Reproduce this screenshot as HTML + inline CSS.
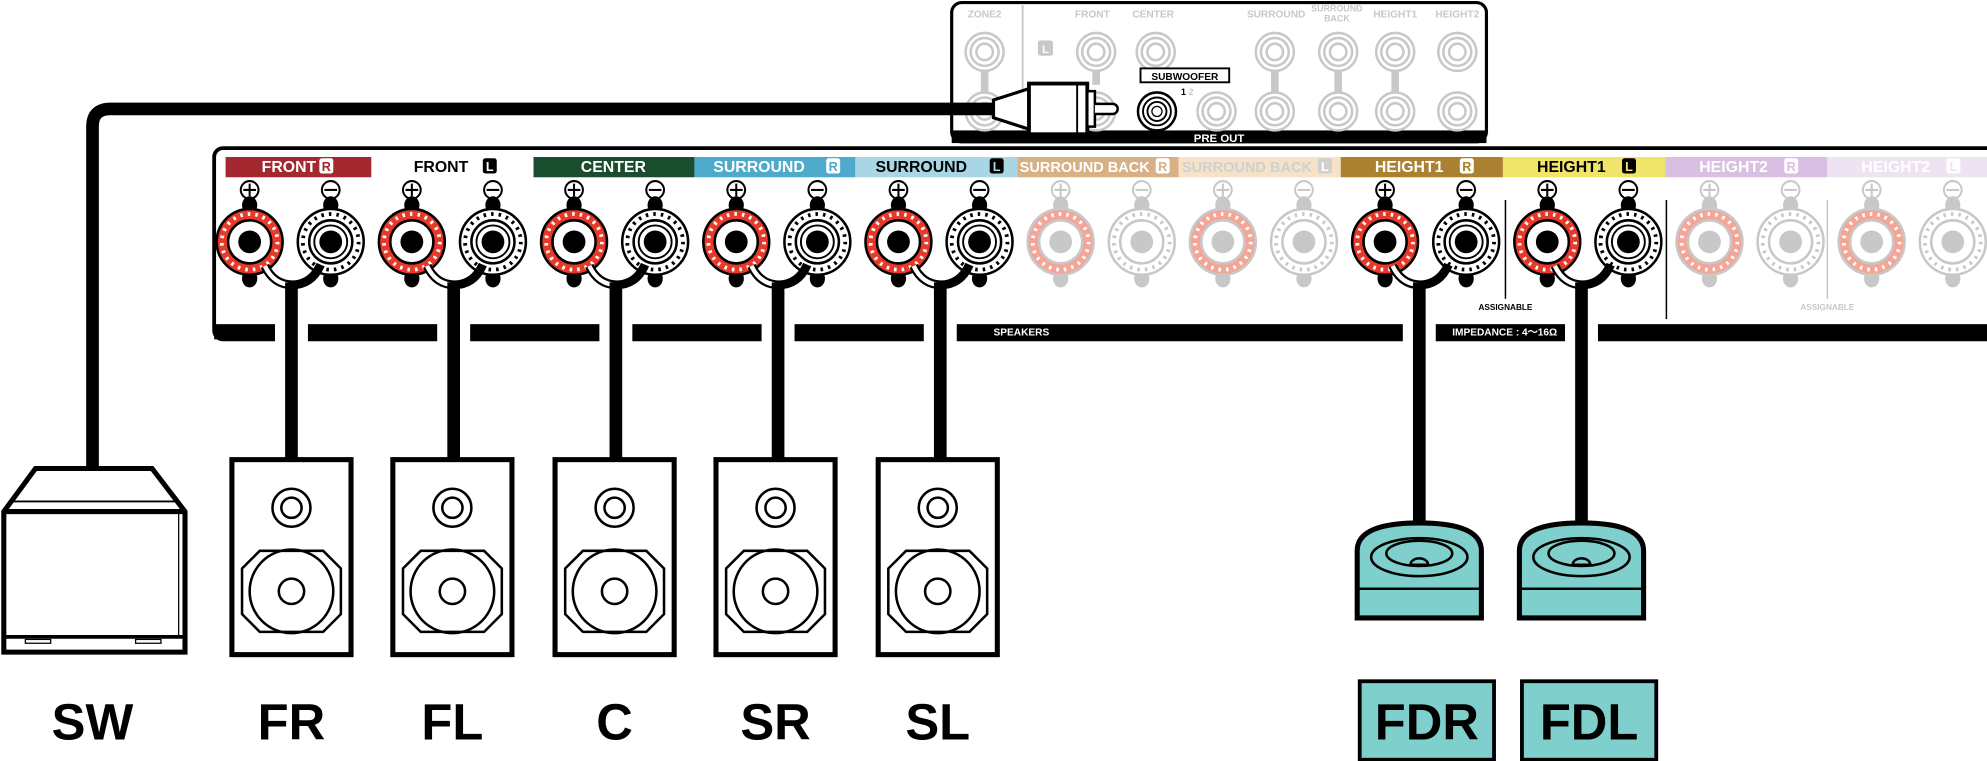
<!DOCTYPE html>
<html><head><meta charset="utf-8"><style>html,body{margin:0;padding:0;background:#fff}svg{display:block}text{font-family:"Liberation Sans",sans-serif;font-weight:bold}</style></head><body>
<svg width="1987" height="761" viewBox="0 0 1568 601" preserveAspectRatio="none" xmlns="http://www.w3.org/2000/svg">
<defs>
<g id="tp">
<ellipse cx="0" cy="-29" rx="6" ry="7" fill="#000"/><ellipse cx="0" cy="29" rx="6" ry="7" fill="#000"/>
<circle r="26" fill="#e8382a" stroke="#000" stroke-width="2"/>
<circle r="22" fill="none" stroke="#fff" stroke-width="3" stroke-dasharray="2 4"/>
<circle r="17" fill="#fff" stroke="#000" stroke-width="2"/>
<circle r="9" fill="#000"/>
</g>
<g id="tn">
<ellipse cx="0" cy="-29" rx="6" ry="7" fill="#000"/><ellipse cx="0" cy="29" rx="6" ry="7" fill="#000"/>
<circle r="26" fill="#fff" stroke="#000" stroke-width="2"/>
<circle r="22" fill="none" stroke="#000" stroke-width="3" stroke-dasharray="2 4"/>
<circle r="17" fill="#fff" stroke="#000" stroke-width="2"/>
<circle r="13" fill="#fff" stroke="#000" stroke-width="1.5"/>
<circle r="9" fill="#000"/>
</g>
<g id="fp">
<ellipse cx="0" cy="-29" rx="6" ry="7" fill="#c8c8c8"/><ellipse cx="0" cy="29" rx="6" ry="7" fill="#c8c8c8"/>
<circle r="26" fill="#f4a595" stroke="#c8c8c8" stroke-width="2"/>
<circle r="22" fill="none" stroke="#fff" stroke-width="3" stroke-dasharray="2 4"/>
<circle r="17" fill="#fff" stroke="#c8c8c8" stroke-width="2"/>
<circle r="9" fill="#c8c8c8"/>
</g>
<g id="fn">
<ellipse cx="0" cy="-29" rx="6" ry="7" fill="#c8c8c8"/><ellipse cx="0" cy="29" rx="6" ry="7" fill="#c8c8c8"/>
<circle r="26" fill="#fff" stroke="#c8c8c8" stroke-width="2"/>
<circle r="22" fill="none" stroke="#c8c8c8" stroke-width="3" stroke-dasharray="2 4"/>
<circle r="17" fill="#fff" stroke="#c8c8c8" stroke-width="2"/>
<circle r="9" fill="#c8c8c8"/>
</g>
<g id="plus"><circle r="7" fill="#fff" stroke="currentColor" stroke-width="1.6"/><path d="M-5 0H5M0 -5V5" stroke="currentColor" stroke-width="1.6"/></g>
<g id="minus"><circle r="7" fill="#fff" stroke="currentColor" stroke-width="1.6"/><path d="M-5 0H5" stroke="currentColor" stroke-width="1.6"/></g>
<g id="rca"><circle r="15" fill="#fff" stroke="#c8c8c8" stroke-width="2"/><circle r="11" fill="none" stroke="#c8c8c8" stroke-width="2"/><circle r="6.5" fill="none" stroke="#c8c8c8" stroke-width="2"/></g>
<g id="spk">
<rect x="-47" y="0" width="94" height="154" fill="#fff" stroke="#000" stroke-width="4"/>
<circle cx="0" cy="38" r="15" fill="none" stroke="#000" stroke-width="2"/><circle cx="0" cy="38" r="8" fill="none" stroke="#000" stroke-width="2"/>
<path d="M-25 72H25L39 86V122L25 136H-25L-39 122V86Z" fill="none" stroke="#000" stroke-width="2"/>
<circle cx="0" cy="104" r="33" fill="none" stroke="#000" stroke-width="2"/><circle cx="0" cy="104" r="10" fill="none" stroke="#000" stroke-width="2"/>
</g>
<g id="hs">
<path d="M-49 488V435Q-49 413 0 413Q49 413 49 435V488Z" fill="#7fcfcc" stroke="#000" stroke-width="4"/>
<path d="M-48 465H48" stroke="#000" stroke-width="2"/>
<ellipse cx="0" cy="440" rx="38" ry="15" fill="none" stroke="#000" stroke-width="2"/>
<ellipse cx="0" cy="437" rx="26" ry="10" fill="none" stroke="#000" stroke-width="2"/>
<path d="M-7 446A7 5 0 0 1 7 446Z" fill="none" stroke="#000" stroke-width="2"/>
</g>
<g id="cab">
<rect x="217" y="254" width="26" height="16" fill="#fff"/>
<path d="M209 210Q216 225 231 225" fill="none" stroke="#000" stroke-width="7"/>
<path d="M209 210Q216 225 231 225" fill="none" stroke="#fff" stroke-width="3.5"/>
<path d="M253 209Q246 225 230 225" fill="none" stroke="#000" stroke-width="7"/>
</g>
</defs>

<!-- pre out box -->
<rect x="751" y="2" width="422" height="110" rx="8" fill="#fff" stroke="#000" stroke-width="2.5"/>
<rect x="751" y="103" width="422" height="10" fill="#000"/>
<text x="962" y="112" font-size="9" fill="#fff" text-anchor="middle">PRE OUT</text>
<line x1="807" y1="4" x2="807" y2="103" stroke="#c8c8c8" stroke-width="1.5"/>
<g font-size="8" fill="#c8c8c8" text-anchor="middle">
<text x="777" y="14">ZONE2</text><text x="862" y="14">FRONT</text><text x="910" y="14">CENTER</text>
<text x="1007" y="14">SURROUND</text><text x="1055" y="9" font-size="7">SURROUND</text><text x="1055" y="17" font-size="7">BACK</text>
<text x="1101" y="14">HEIGHT1</text><text x="1150" y="14">HEIGHT2</text></g>
<rect x="819" y="32" width="12" height="12" rx="2" fill="#c8c8c8"/><text x="825" y="42" font-size="9" fill="#fff" text-anchor="middle">L</text>
<g fill="#c8c8c8"><rect x="774" y="55" width="6" height="22"/><rect x="1003" y="55" width="6" height="22"/><rect x="1053" y="55" width="6" height="22"/><rect x="1098" y="55" width="6" height="22"/><rect x="862" y="55" width="6" height="12"/></g>
<use href="#rca" x="777" y="41"/><use href="#rca" x="865" y="41"/><use href="#rca" x="912" y="41"/><use href="#rca" x="1006" y="41"/><use href="#rca" x="1056" y="41"/><use href="#rca" x="1101" y="41"/><use href="#rca" x="1150" y="41"/>
<use href="#rca" x="777" y="88"/><use href="#rca" x="865" y="88"/><use href="#rca" x="960" y="88"/><use href="#rca" x="1006" y="88"/><use href="#rca" x="1056" y="88"/><use href="#rca" x="1101" y="88"/><use href="#rca" x="1150" y="88"/>
<rect x="900" y="54" width="70" height="11" fill="#fff" stroke="#000" stroke-width="1.5"/>
<text x="935" y="63" font-size="8" text-anchor="middle">SUBWOOFER</text>
<text x="932" y="75" font-size="7">1</text><text x="938" y="75" font-size="7" fill="#c8c8c8">2</text>
<circle cx="913" cy="88" r="15" fill="#fff" stroke="#000" stroke-width="2"/><circle cx="913" cy="88" r="11" fill="none" stroke="#000" stroke-width="1.5"/><circle cx="913" cy="88" r="7.5" fill="none" stroke="#000" stroke-width="1.5"/><circle cx="913" cy="88" r="4" fill="#fff" stroke="#000" stroke-width="1"/>

<!-- speaker panel -->
<rect x="169" y="117" width="1420" height="151" rx="7" fill="#fff" stroke="#000" stroke-width="3"/>
<rect x="169" y="256" width="1420" height="12" fill="#000"/>
<text x="806" y="265" font-size="8" fill="#fff" text-anchor="middle">SPEAKERS</text>
<text x="1146" y="265" font-size="8" fill="#fff">IMPEDANCE : 4～16Ω</text>

<!-- labels -->
<g font-size="12.5" text-anchor="middle">
<rect x="178" y="124" width="115" height="16" fill="#a3282f"/><text x="228" y="136" fill="#fff">FRONT</text><rect x="252" y="125" width="11" height="12" rx="2" fill="#fff"/><text x="257.5" y="135" fill="#a3282f" font-size="10">R</text>
<text x="348" y="136">FRONT</text><rect x="381" y="125" width="11" height="12" rx="2" fill="#000"/><text x="386.5" y="135" fill="#fff" font-size="10">L</text>
<rect x="421" y="124" width="127" height="16" fill="#1a4d2e"/><text x="484" y="136" fill="#fff">CENTER</text>
<rect x="548" y="124" width="127" height="16" fill="#4eaacb"/><text x="599" y="136" fill="#fff">SURROUND</text><rect x="652" y="125" width="11" height="12" rx="2" fill="#fff"/><text x="657.5" y="135" fill="#4eaacb" font-size="10">R</text>
<rect x="675" y="124" width="128" height="16" fill="#a8d6e5"/><text x="727" y="136">SURROUND</text><rect x="781" y="125" width="11" height="12" rx="2" fill="#000"/><text x="786.5" y="135" fill="#a8d6e5" font-size="10">L</text>
<rect x="803" y="124" width="127" height="16" fill="#d8b086"/><text x="856" y="136" fill="#fff" font-size="11.5">SURROUND BACK</text><rect x="912" y="125" width="11" height="12" rx="2" fill="#fff"/><text x="917.5" y="135" fill="#d8b086" font-size="10">R</text>
<rect x="930" y="124" width="128" height="16" fill="#f6e2c8"/><text x="984" y="136" fill="#d0d0d0" font-size="11.5">SURROUND BACK</text><rect x="1040" y="125" width="11" height="12" rx="2" fill="#d0d0d0"/><text x="1045.5" y="135" fill="#fff" font-size="10">L</text>
<rect x="1058" y="124" width="128" height="16" fill="#ab8030"/><text x="1112" y="136" fill="#fff">HEIGHT1</text><rect x="1152" y="125" width="11" height="12" rx="2" fill="#fff"/><text x="1157.5" y="135" fill="#ab8030" font-size="10">R</text>
<rect x="1186" y="124" width="128" height="16" fill="#f1e569"/><text x="1240" y="136">HEIGHT1</text><rect x="1280" y="125" width="11" height="12" rx="2" fill="#000"/><text x="1285.5" y="135" fill="#f1e569" font-size="10">L</text>
<rect x="1314" y="124" width="128" height="16" fill="#d9bfe2"/><text x="1368" y="136" fill="#fff">HEIGHT2</text><rect x="1408" y="125" width="11" height="12" rx="2" fill="#fff"/><text x="1413.5" y="135" fill="#d9bfe2" font-size="10">R</text>
<rect x="1442" y="124" width="126" height="16" fill="#eee3f2"/><text x="1496" y="136" fill="#fff">HEIGHT2</text><rect x="1536" y="125" width="11" height="12" rx="2" fill="#fff"/><text x="1541.5" y="135" fill="#eee3f2" font-size="10">L</text>
</g>
<line x1="1188" y1="158" x2="1188" y2="236" stroke="#000" stroke-width="1.2"/>
<text x="1188" y="245" font-size="6.5" text-anchor="middle">ASSIGNABLE</text>
<line x1="1315" y1="158" x2="1315" y2="252" stroke="#000" stroke-width="1.2"/>
<line x1="1442" y1="158" x2="1442" y2="236" stroke="#c8c8c8" stroke-width="1.2"/>
<text x="1442" y="245" font-size="6.5" fill="#c8c8c8" text-anchor="middle">ASSIGNABLE</text>

<!-- terminals -->
<g color="#000">
<use href="#plus" x="197" y="150"/><use href="#minus" x="261" y="150"/>
<use href="#plus" x="325" y="150"/><use href="#minus" x="389" y="150"/>
<use href="#plus" x="453" y="150"/><use href="#minus" x="517" y="150"/>
<use href="#plus" x="581" y="150"/><use href="#minus" x="645" y="150"/>
<use href="#plus" x="709" y="150"/><use href="#minus" x="773" y="150"/>
<use href="#plus" x="1093" y="150"/><use href="#minus" x="1157" y="150"/>
<use href="#plus" x="1221" y="150"/><use href="#minus" x="1285" y="150"/>
</g>
<g color="#c8c8c8">
<use href="#plus" x="837" y="150"/><use href="#minus" x="901" y="150"/>
<use href="#plus" x="965" y="150"/><use href="#minus" x="1029" y="150"/>
<use href="#plus" x="1349" y="150"/><use href="#minus" x="1413" y="150"/>
<use href="#plus" x="1477" y="150"/><use href="#minus" x="1541" y="150"/>
</g>
<use href="#tp" x="197" y="191"/><use href="#tn" x="261" y="191"/>
<use href="#tp" x="325" y="191"/><use href="#tn" x="389" y="191"/>
<use href="#tp" x="453" y="191"/><use href="#tn" x="517" y="191"/>
<use href="#tp" x="581" y="191"/><use href="#tn" x="645" y="191"/>
<use href="#tp" x="709" y="191"/><use href="#tn" x="773" y="191"/>
<use href="#fp" x="837" y="191"/><use href="#fn" x="901" y="191"/>
<use href="#fp" x="965" y="191"/><use href="#fn" x="1029" y="191"/>
<use href="#tp" x="1093" y="191"/><use href="#tn" x="1157" y="191"/>
<use href="#tp" x="1221" y="191"/><use href="#tn" x="1285" y="191"/>
<use href="#fp" x="1349" y="191"/><use href="#fn" x="1413" y="191"/>
<use href="#fp" x="1477" y="191"/><use href="#fn" x="1541" y="191"/>

<!-- cables -->
<use href="#cab" x="0"/><use href="#cab" x="128"/><use href="#cab" x="256"/><use href="#cab" x="384"/><use href="#cab" x="512"/><use href="#cab" x="890"/><use href="#cab" x="1018"/>
<g fill="#000">
<rect x="225" y="223" width="10" height="141"/><rect x="353" y="223" width="10" height="141"/><rect x="481" y="223" width="10" height="141"/><rect x="609" y="223" width="10" height="141"/><rect x="737" y="223" width="10" height="141"/>
<rect x="1115" y="223" width="10" height="192"/><rect x="1243" y="223" width="10" height="192"/>
</g>

<!-- SW cable and plug -->
<path d="M73 372V100Q73 86 87 86H790" fill="none" stroke="#000" stroke-width="10"/>
<path d="M784 79L812 70V102L784 93Z" fill="#fff" stroke="#000" stroke-width="2.5"/>
<rect x="812" y="66" width="46" height="40" fill="#fff" stroke="#000" stroke-width="3"/>
<line x1="850" y1="66" x2="850" y2="106" stroke="#000" stroke-width="1.5"/>
<rect x="858" y="72" width="6" height="28" fill="#fff" stroke="#000" stroke-width="2"/>
<path d="M864 82H878A4 4 0 0 1 878 90H864" fill="#fff" stroke="#000" stroke-width="2"/>

<!-- SW -->
<path d="M28 370H120L146 404V515H3V404Z" fill="#fff" stroke="#000" stroke-width="4"/>
<line x1="8" y1="396" x2="141" y2="396" stroke="#000" stroke-width="1.5"/>
<line x1="3" y1="404" x2="146" y2="404" stroke="#000" stroke-width="4"/>
<line x1="141" y1="404" x2="141" y2="503" stroke="#000" stroke-width="1"/>
<line x1="3" y1="503" x2="146" y2="503" stroke="#000" stroke-width="3"/>
<rect x="20" y="505" width="20" height="3" fill="#fff" stroke="#000" stroke-width="1"/>
<rect x="107" y="505" width="20" height="3" fill="#fff" stroke="#000" stroke-width="1"/>

<!-- speakers -->
<use href="#spk" x="230" y="363"/><use href="#spk" x="357" y="363"/><use href="#spk" x="485" y="363"/><use href="#spk" x="612" y="363"/><use href="#spk" x="740" y="363"/>
<use href="#hs" x="1120"/><use href="#hs" x="1248"/>

<!-- labels -->
<g font-size="40" text-anchor="middle">
<text x="73" y="584">SW</text><text x="230" y="584">FR</text><text x="357" y="584">FL</text><text x="485" y="584">C</text><text x="612" y="584">SR</text><text x="740" y="584">SL</text>
</g>
<rect x="1073" y="538" width="106" height="62" fill="#7fcfcc" stroke="#000" stroke-width="3"/>
<rect x="1201" y="538" width="106" height="62" fill="#7fcfcc" stroke="#000" stroke-width="3"/>
<g font-size="40" text-anchor="middle"><text x="1126" y="584">FDR</text><text x="1254" y="584">FDL</text></g>
</svg>
</body></html>
